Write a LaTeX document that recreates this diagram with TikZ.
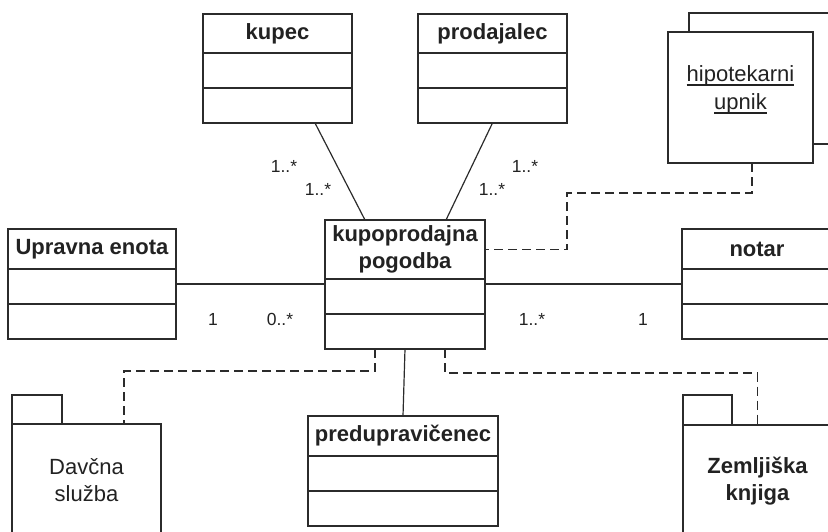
\documentclass[tikz,border=0pt]{standalone}
\usepackage{fontspec}
\setmainfont{Liberation Sans}
\usetikzlibrary{calc,positioning}
\definecolor{umlline}{HTML}{2B2B2B}
\definecolor{umltext}{HTML}{222222}
\newcommand{\ulword}[1]{\setbox0\hbox{#1}\rlap{\rule[-4.5pt]{\wd0}{1.4pt}}\box0}

\begin{document}
\begin{tikzpicture}[
                x=1pt, y=-1pt,
                every node/.append style={outer sep=0pt,inner sep=0pt,text=umltext},
                head/.style={draw=umlline,line width=2pt,anchor=north west,align=center,
                    minimum width=#1,font=\fontsize{22}{26.5}\selectfont\bfseries},
                comp/.style={draw=umlline,line width=2pt,minimum width=#1,minimum height=35pt},
                pkg/.style={draw=umlline,line width=2pt,fill=white,align=center,
                    font=\fontsize{22}{26.5}\selectfont},
                mult/.style={font=\fontsize{17.5}{20}\selectfont},
                assoc/.style={draw=umlline,line width=1.2pt},
                dep/.style={draw=umlline,line width=1.3pt,dash pattern=on 9pt off 5pt}
            ]
                \useasboundingbox (0,0) rectangle (828,531);
                \clip (0,0) rectangle (828,531);

                % razredi
                \node (kupec) [head=149pt,minimum height=39pt] at (203,14) {kupec};
                \node (kupec2) [comp=149pt,below=0pt of kupec] {};
                \node (kupec3) [comp=149pt,below=0pt of kupec2] {};

                \node (prodajalec) [head=149pt,minimum height=39pt] at (418,14) {prodajalec};
                \node (prodajalec2) [comp=149pt,below=0pt of prodajalec] {};
                \node (prodajalec3) [comp=149pt,below=0pt of prodajalec2] {};

                \node (upravna) [head=168pt,minimum height=40pt] at (8,229) {Upravna enota};
                \node (upravna2) [comp=168pt,below=0pt of upravna] {};
                \node (upravna3) [comp=168pt,below=0pt of upravna2] {};

                \node (notar) [head=150pt,minimum height=40pt] at (682,229) {notar};
                \node (notar2) [comp=150pt,below=0pt of notar] {};
                \node (notar3) [comp=150pt,below=0pt of notar2] {};

                \node (pogodba) [head=160pt,minimum height=59pt] at (325,220) {kupoprodajna\\pogodba};
                \node (pogodba2) [comp=160pt,below=0pt of pogodba] {};
                \node (pogodba3) [comp=160pt,below=0pt of pogodba2] {};

                \node (pred) [head=190pt,minimum height=40pt] at (308,416) {predupravičenec};
                \node (pred2) [comp=190pt,below=0pt of pred] {};
                \node (pred3) [comp=190pt,below=0pt of pred2] {};

                % objekt
                \node (hipback) [pkg,anchor=north west,minimum width=171pt,minimum height=131pt] at (689,13) {};
                \node (hip) [pkg,anchor=north west,minimum width=145pt,minimum height=131pt] at (668,32) {};
                \node (hiptext) [align=center,font=\fontsize{22}{28}\selectfont] at ([yshift=8pt]hip.center)
                    {\ulword{hipotekarni}\\\ulword{upnik}};

                % paketi
                \node (davcna) [pkg,anchor=north west,minimum width=149pt,minimum height=112pt] at (12,424) {Davčna\\služba};
                \node (davcnatab) [pkg,anchor=south west,minimum width=50pt,minimum height=29pt] at (davcna.north west) {};
                \node (zemljiska) [pkg,anchor=north west,minimum width=149pt,minimum height=112pt,
                    font=\fontsize{22}{26.5}\selectfont\bfseries] at (683,425) {Zemljiška\\knjiga};
                \node (zemljiskatab) [pkg,anchor=south west,minimum width=49pt,minimum height=30pt] at (zemljiska.north west) {};

                % asociacije
                \draw[assoc] ([xshift=37.5pt]kupec3.south) -- ([xshift=-40pt]pogodba.north);
                \draw[assoc] (prodajalec3.south) -- ([xshift=41pt]pogodba.north);
                \draw[assoc] ([yshift=2.5pt]upravna2.east) -- ([yshift=2.5pt]upravna2.east -| pogodba.west);
                \draw[assoc] ([yshift=2.5pt]notar2.west) -- ([yshift=2.5pt]notar2.west -| pogodba.east);
                \draw[assoc] (pogodba3.south) -- (pred.north);

                % odvisnosti
                \draw[dep] ([xshift=11.5pt]hip.south) -- ++(0,30) -| ([xshift=82pt]pogodba.east) -- (pogodba.east);
                \draw[dep] ([xshift=-30pt]pogodba3.south) -- ++(0,22) -| ([xshift=37.5pt]davcna.north);
                \draw[dep] ([xshift=40pt]pogodba3.south) -- ++(0,24) -| (zemljiska.north);

                % kardinalnosti
                \node (m1) [mult] at (284,166) {1..*};
                \node (m2) [mult] at (318,189) {1..*};
                \node (m3) [mult] at (525,166) {1..*};
                \node (m4) [mult] at (492,189) {1..*};
                \node (m5) [mult] at (213,319) {1};
                \node (m6) [mult] at (280,319) {0..*};
                \node (m7) [mult] at (532,319) {1..*};
                \node (m8) [mult] at (643,319) {1};
            \end{tikzpicture}
\end{document}
